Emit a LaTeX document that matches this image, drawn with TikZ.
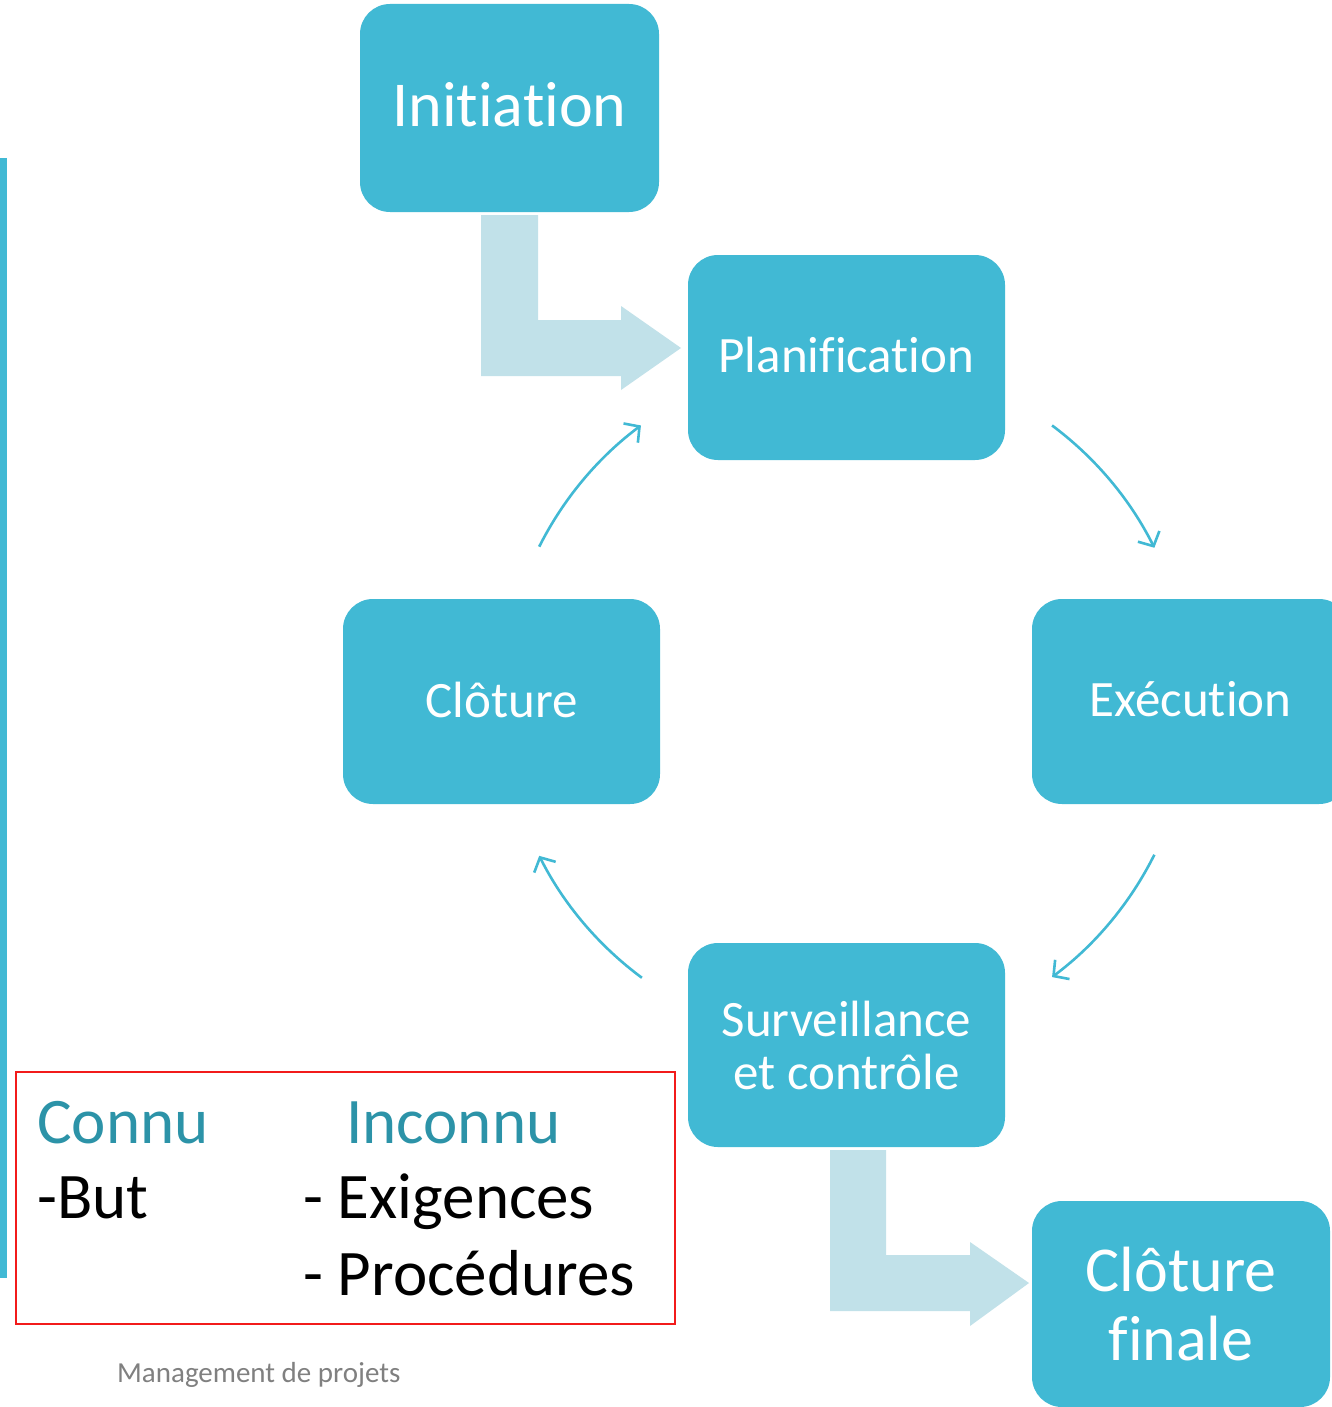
\documentclass[tikz,border=0pt]{standalone}
\usepackage{fontspec}
\setmainfont{Carlito}[RawFeature={-liga,-clig,-calt,-dlig}]
\usetikzlibrary{arrows.meta,calc}
\definecolor{boxblue}{HTML}{41B9D4}
\definecolor{paleblue}{HTML}{C1E1E9}
\definecolor{tealtext}{HTML}{2C93A8}
\definecolor{footgray}{HTML}{808080}
\definecolor{framered}{HTML}{F21B1B}
\newcommand{\lifted}[2]{\raisebox{#1}[\height][\depth]{#2}}
\tikzset{
  phase/.style={rectangle, rounded corners=30pt, fill=boxblue, text=white,
    inner sep=0pt, align=center, font=\fontsize{51}{55}\selectfont},
  bigphase/.style={phase, font=\fontsize{64}{69}\selectfont},
  cycle/.style={draw=boxblue, line width=2.6pt,
    -{Straight Barb[length=11pt,width=24pt,line width=2.6pt]}},
  elbow/.style={fill=paleblue},
  listtext/.style={anchor=base west, inner sep=0pt, font=\fontsize{65}{70}\selectfont},
}
\begin{document}
\begin{tikzpicture}[x=1pt,y=-1pt]
\clip (0,0) rectangle (1332,1407);
\fill[white] (0,0) rectangle (1332,1407);

% side bar
\fill[boxblue] (0,158) rectangle (7,1278);

% phases
\node[bigphase, minimum width=299pt, minimum height=208pt] (init) at (509.5,108) {\lifted{3pt}{Initiation}};
\node[phase, minimum width=317pt, minimum height=205pt] (plan) at (846.5,357.5) {\lifted{3pt}{Planification}};
\node[phase, minimum width=317pt, minimum height=205pt] (exec) at (1190.5,701.5) {\lifted{2pt}{Exécution}};
\node[phase, minimum width=317pt, minimum height=205pt] (clot) at (501.5,701.5) {\lifted{2pt}{Clôture}};
\node[phase, minimum width=317pt, minimum height=204pt] (surv) at (846.5,1045) {Surveillance\\[-2pt]et contrôle};
\node[bigphase, minimum width=298pt, minimum height=206pt] (fin) at (1181,1304) {Clôture\\finale};

% elbow arrows into and out of the cycle
\fill[elbow] (481,215) -- (538,215) -- (538,320) -- (621,320) -- (621,306) -- (681,348)
  -- (621,390) -- (621,376) -- (481,376) -- cycle;
\fill[elbow] (830,1150) -- (886,1150) -- (886,1255) -- (970,1255) -- (970,1242) -- (1029,1283)
  -- (970,1326) -- (970,1311) -- (830,1311) -- cycle;

% cycle arrows on a common circle
\coordinate (hub) at ($(plan)!0.5!(surv)$);
\draw[cycle] ($(hub)+(-53.3:344)$) arc[start angle=-53.3, end angle=-26.5, radius=344];
\draw[cycle] ($(hub)+(26.5:344)$) arc[start angle=26.5, end angle=53.3, radius=344];
\draw[cycle] ($(hub)+(126.5:344)$) arc[start angle=126.5, end angle=153.3, radius=344];
\draw[cycle] ($(hub)+(-153.3:344)$) arc[start angle=-153.3, end angle=-126.7, radius=344];

% known / unknown frame
\draw[framered, line width=1.6pt] (16,1072) rectangle (675,1324);
\node[listtext, text=tealtext] (connu) at (37,1143) {Connu};
\node[listtext, text=tealtext] (inconnu) at (346,1143) {Inconnu};
\node[listtext] (but) at (37,1218) {-But};
\node[listtext] (exig) at (303,1218) {- Exigences};
\node[listtext] (proc) at (303,1295) {- Procédures};

% footer
\node[anchor=base west, inner sep=0pt, text=footgray, font=\fontsize{29}{32}\selectfont] (foot) at (117,1382) {Management de projets};
\end{tikzpicture}
\end{document}
